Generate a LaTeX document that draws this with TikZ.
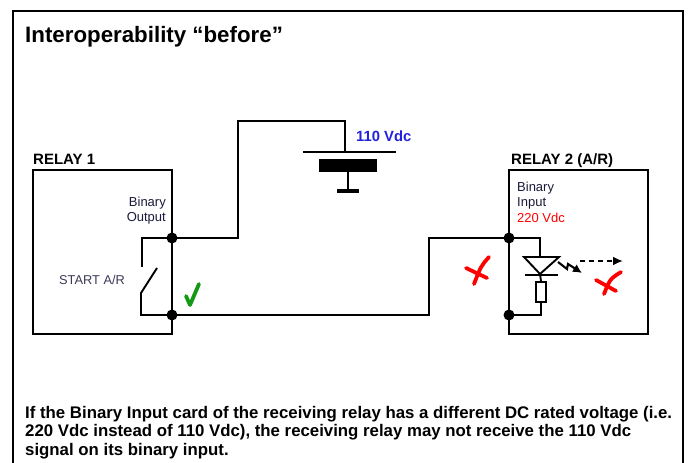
\documentclass[tikz,border=0pt]{standalone}
\usepackage{fontspec}
\setmainfont{Liberation Sans}
\usetikzlibrary{arrows.meta}
\definecolor{navy}{HTML}{1A1A3A}
\definecolor{slate}{HTML}{3A3A55}
\definecolor{vblue}{HTML}{2222DD}
\definecolor{vred}{HTML}{FF0000}
\definecolor{vgreen}{HTML}{139913}
\begin{document}
\begin{tikzpicture}[x=1pt,y=-1pt,
  wire/.style={line width=1.9pt,line join=miter},
  frame/.style={line width=2.2pt},
  dotj/.style={circle,fill=black,inner sep=0pt,minimum size=11pt},
  lbl/.style={inner sep=0pt,anchor=base west},
  handstroke/.style={line width=3.8pt,line cap=round,line join=round}]
\useasboundingbox (0,0) rectangle (688,463);
\fill[white] (0,0) rectangle (688,463);
% outer frame
\coordinate (fbl) at (13,463);
\coordinate (ftl) at (13,11);
\coordinate (ftr) at (683,11);
\coordinate (fbr) at (683,463);
\draw[frame] (fbl) -- (ftl) -- (ftr) -- (fbr);
% title
\node[lbl] (title) at (25,42) {\fontsize{22.3}{26}\selectfont\bfseries Interoperability “before”};
% relay 1
\node[lbl] (r1lbl) at (33,164) {\fontsize{15}{18}\selectfont\bfseries RELAY 1};
\coordinate (r1a) at (33,170);
\coordinate (r1b) at (172,334);
\draw[wire] (r1a) rectangle (r1b);
\node[lbl,anchor=base east,text=navy] (bo1) at (166,206) {\fontsize{13}{15}\selectfont Binary};
\node[lbl,anchor=base east,text=navy] (bo2) at (166,221) {\fontsize{13}{15}\selectfont Output};
\node[lbl,text=slate] (start) at (59,284) {\fontsize{12.8}{15}\selectfont START A/R};
% junctions relay 1
\node[dotj] (d1t) at (172,238) {};
\node[dotj] (d1b) at (172,315) {};
% switch
\coordinate (swt) at (142,238);
\coordinate (swta) at (142,267);
\coordinate (blt) at (157,268);
\coordinate (swb) at (141,293);
\coordinate (swbb) at (141,315);
\draw[wire] (d1t.center) -- (swt) -- (swta);
\draw[wire] (blt) -- (swb) -- (swbb) -- (d1b.center);
% check
\coordinate (ck1) at (186,296);
\coordinate (ck2) at (190,305);
\coordinate (ck3) at (199,284);
\draw[handstroke,vgreen] (ck1) -- (ck2) -- (ck3);
% top wire to battery
\coordinate (tw1) at (238,238);
\coordinate (tw2) at (238,121);
\coordinate (tw3) at (345,121);
\coordinate (bat1) at (345,152);
\draw[wire] (d1t.center) -- (tw1) -- (tw2) -- (tw3) -- (bat1);
% battery
\coordinate (bpl) at (303,152);
\coordinate (bpr) at (396,152);
\draw[wire] (bpl) -- (bpr);
\node[fill=black,inner sep=0pt,minimum width=58pt,minimum height=13pt] (bplate) at (348,165.5) {};
\coordinate (bst) at (348,191);
\draw[wire] (bplate.south) -- (bst);
\coordinate (bgl) at (337,191);
\coordinate (bgr) at (359,191);
\draw[line width=3.4pt] (bgl) -- (bgr);
\node[lbl,text=vblue] (v110) at (356,141) {\fontsize{14.8}{17}\selectfont\bfseries 110 Vdc};
% bottom wire
\coordinate (bw1) at (429,315);
\coordinate (bw2) at (429,238);
\node[dotj] (d2t) at (509,238) {};
\node[dotj] (d2b) at (509,315) {};
\draw[wire] (d1b.center) -- (bw1) -- (bw2) -- (d2t.center);
% relay 2
\node[lbl] (r2lbl) at (511,164) {\fontsize{15}{18}\selectfont\bfseries RELAY 2 (A/R)};
\coordinate (r2a) at (509,170);
\coordinate (r2b) at (648,334);
\draw[wire] (r2a) rectangle (r2b);
\node[lbl,text=navy] (bi1) at (517,191) {\fontsize{13}{15}\selectfont Binary};
\node[lbl,text=navy] (bi2) at (517,206) {\fontsize{13}{15}\selectfont Input};
\node[lbl,text=vred] (v220) at (517,222) {\fontsize{13}{15}\selectfont 220 Vdc};
% LED and resistor
\coordinate (l1) at (540,238);
\coordinate (ltop) at (540,257);
\coordinate (tl) at (524,257);
\coordinate (tr) at (559,257);
\coordinate (tap) at (540,274);
\coordinate (bl) at (525,275);
\coordinate (br) at (558,275);
\draw[wire] (d2t.center) -- (l1) -- (ltop);
\draw[wire] (tl) -- (tr) -- (tap) -- cycle;
\draw[wire] (bl) -- (br);
\node[draw,line width=1.9pt,inner sep=0pt,minimum width=10pt,minimum height=20pt] (res) at (541,292) {};
\coordinate (rb) at (541,315);
\draw[wire] (tap) -- (res.north);
\draw[wire] (res.south) -- (rb) -- (d2b.center);
% light emission
\coordinate (z1) at (558,262);
\coordinate (z2) at (567,269);
\coordinate (z3) at (568,264);
\coordinate (z4) at (582,273);
\draw[line width=2.1pt,-{Latex[length=9pt,width=9pt]}] (z1) -- (z2) -- (z3) -- (z4);
\coordinate (da) at (580,261);
\coordinate (db) at (623,261);
\draw[line width=2.1pt,dash pattern=on 5pt off 4pt,-{Latex[length=10pt,width=9pt]}] (da) -- (db);
% red crosses
\coordinate (xa1) at (489,257);
\coordinate (xa2) at (474,284);
\coordinate (xb1) at (466,268);
\coordinate (xb2) at (487,278);
\draw[handstroke,vred] (xa1) .. controls (481,266) .. (xa2);
\draw[handstroke,vred] (xb1) -- (xb2);
\coordinate (xc1) at (621,272);
\coordinate (xc2) at (604,294);
\coordinate (xd1) at (596,280);
\coordinate (xd2) at (616,291);
\draw[handstroke,vred] (xc1) .. controls (610,279) .. (xc2);
\draw[handstroke,vred] (xd1) -- (xd2);
% bottom text
\node[lbl] (t1) at (25,418) {\fontsize{16.8}{19}\selectfont\bfseries If the Binary Input card of the receiving relay has a different DC rated voltage (i.e.};
\node[lbl] (t2) at (25,436.5) {\fontsize{16.8}{19}\selectfont\bfseries 220 Vdc instead of 110 Vdc), the receiving relay may not receive the 110 Vdc};
\node[lbl] (t3) at (25,455) {\fontsize{16.8}{19}\selectfont\bfseries signal on its binary input.};
\end{tikzpicture}
\end{document}
